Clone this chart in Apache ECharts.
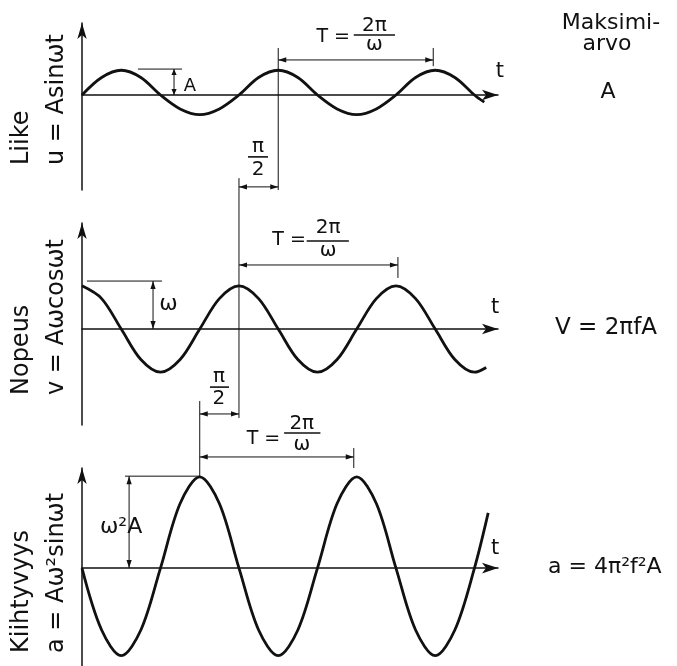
<!DOCTYPE html>
<html>
<head>
<meta charset="utf-8">
<script src="https://cdn.jsdelivr.net/npm/echarts@6/dist/echarts.min.js"></script>
<style>
html,body{margin:0;padding:0;background:#fff;}
#main{width:677px;height:666px;}
</style>
</head>
<body>
<div id="main"></div>
<script>
// aika kahdeksasosajaksoina (jakso T = 8), arvot A:n yksikoissa
var liikeT = [0,1,2,3,4,5,6,7,8,9,10,11,12,13,14,15,16,17,18,19,20,20.5];
var liikeU = [0,0.73,1.03,0.73,0,-0.58,-0.82,-0.58,0,0.73,1.03,0.73,0,-0.58,-0.82,-0.58,0,0.73,1.03,0.73,0,-0.3];

var nopeusT = [0,1,2,3,4,5,6,7,8,9,10,11,12,13,14,15,16,17,18,19,20,20.6];
var nopeusV = [1.8,1.27,0,-1.27,-1.8,-1.27,0,1.27,1.8,1.27,0,-1.27,-1.8,-1.27,0,1.27,1.8,1.27,0,-1.27,-1.8,-1.6];

var kiihtT = [0,1,2,3,4,5,6,7,8,9,10,11,12,13,14,15,16,17,18,19,20,20.7];
var kiihtA = [0,-2.58,-3.65,-2.58,0,2.69,3.8,2.69,0,-2.58,-3.65,-2.58,0,2.69,3.8,2.69,0,-2.58,-3.65,-2.58,0,2.3];

var otsikot = ['Liike', 'Nopeus', 'Kiihtyvyys'];
var kaavat = ['u = Asinωt', 'v = Aωcosωt', 'a = Aω²sinωt'];
var maksimit = ['A', 'V = 2πfA', 'a = 4π²f²A'];

var VARI = '#111';
var FONTTI = '"DejaVu Sans", sans-serif';

function pari(xs, ys) {
    var out = [];
    for (var i = 0; i < xs.length; i++) out.push([xs[i], ys[i]]);
    return out;
}

function akseliX(i) {
    return {
        type: 'value', gridIndex: i, min: 0, max: 21.2,
        axisLine: {show: true, onZero: true, symbol: ['none', 'arrow'], symbolSize: [8, 16],
            lineStyle: {color: VARI, width: 1.5}},
        axisTick: {show: false}, axisLabel: {show: false}, splitLine: {show: false}
    };
}
function akseliY(i, min, max) {
    return {
        type: 'value', gridIndex: i, min: min, max: max,
        axisLine: {show: true, onZero: false, symbol: ['none', 'arrow'], symbolSize: [7, 16],
            lineStyle: {color: VARI, width: 1.5}},
        axisTick: {show: false}, axisLabel: {show: false}, splitLine: {show: false}
    };
}
function kayra(i, data) {
    return {
        type: 'line', xAxisIndex: i, yAxisIndex: i, data: data,
        smooth: 0.33, showSymbol: false, silent: true,
        lineStyle: {color: VARI, width: 2.8}
    };
}

var myChart = echarts.init(document.getElementById('main'));
option = {
    animation: false,
    backgroundColor: '#fff',
    grid: [
        {left: 82, top: 23, width: 416, height: 167},
        {left: 82, top: 223, width: 416, height: 202},
        {left: 82, top: 468, width: 416, height: 198}
    ],
    xAxis: [akseliX(0), akseliX(1), akseliX(2)],
    yAxis: [akseliY(0, -3.96, 3.0), akseliY(1, -4.0, 4.42), akseliY(2, -4.08, 4.17)],
    series: [
        kayra(0, pari(liikeT, liikeU)),
        kayra(1, pari(nopeusT, nopeusV)),
        kayra(2, pari(kiihtT, kiihtA))
    ]
};
myChart.setOption(option);

// mittaviivat ja merkinnat, sijainnit akselien yksikoissa
var kuvio = [];
function px(g, x, y) {
    return myChart.convertToPixel({gridIndex: g}, [x, y]);
}
function karki(tip, from, L, W) {
    var dx = tip[0] - from[0], dy = tip[1] - from[1];
    var len = Math.sqrt(dx * dx + dy * dy);
    dx /= len; dy /= len;
    var bx = tip[0] - dx * L, by = tip[1] - dy * L;
    return {type: 'polygon', silent: true,
        shape: {points: [[tip[0], tip[1]], [bx - dy * W, by + dx * W], [bx + dy * W, by - dx * W]]},
        style: {fill: VARI}};
}
function viiva(g, x1, y1, x2, y2, nuolet, L) {
    var a = px(g, x1, y1), b = px(g, x2, y2);
    kuvio.push({type: 'line', silent: true,
        shape: {x1: a[0], y1: a[1], x2: b[0], y2: b[1]},
        style: {stroke: VARI, lineWidth: 1}});
    if (nuolet) {
        kuvio.push(karki(a, b, L || 8, 2.6));
        kuvio.push(karki(b, a, L || 8, 2.6));
    }
}
function teksti(g, x, y, s, koko) {
    var p = px(g, x, y);
    kuvio.push({type: 'text', x: p[0], y: p[1], silent: true,
        style: {text: s, font: koko + 'px ' + FONTTI, fill: VARI, align: 'center', verticalAlign: 'middle'}});
}
function murtoluku(g, x, y, x1, x2, yla, ala, koko, dyY, dyA) {
    var a = px(g, x1, y), b = px(g, x2, y);
    kuvio.push({type: 'line', silent: true,
        shape: {x1: a[0], y1: a[1], x2: b[0], y2: b[1]},
        style: {stroke: VARI, lineWidth: 1.6}});
    teksti(g, x, y + dyY, yla, koko);
    teksti(g, x, y - dyA, ala, koko);
}

// Liike
viiva(0, 10, 1.96, 10, -3.96, false);
viiva(0, 10, 1.46, 17.9, 1.46, true);
viiva(0, 17.9, 1.96, 17.9, 1.2, false);
viiva(0, 8, -3.83, 10, -3.83, true);
viiva(0, 2.85, 1.08, 5.1, 1.08, false);
viiva(0, 4.69, 1.08, 4.69, 0, true, 6);
teksti(0, 5.5, 0.38, 'A', 18);
teksti(0, 21.3, 0.96, 't', 21);
teksti(0, 12.8, 2.42, 'T =', 19);
murtoluku(0, 14.9, 2.5, 13.85, 15.95, '2π', 'ω', 20, 0.37, 0.42);
murtoluku(0, 8.97, -2.58, 8.46, 9.48, 'π', '2', 20, 0.4, 0.52);

// Nopeus
viiva(1, 8, 6.29, 8, -3.71, false);
viiva(1, 0.25, 2.0, 4.08, 2.0, false);
viiva(1, 3.62, 2.0, 3.62, 0, true);
viiva(1, 8, 2.67, 16.1, 2.67, true);
viiva(1, 16.1, 3.0, 16.1, 2.13, false);
viiva(1, 6, -3.54, 8, -3.54, true);
teksti(1, 4.4, 1.04, 'ω', 22);
teksti(1, 21.05, 0.88, 't', 21);
teksti(1, 10.55, 3.71, 'T =', 19);
murtoluku(1, 12.54, 3.67, 11.45, 13.6, '2π', 'ω', 20, 0.55, 0.42);
murtoluku(1, 6.98, -2.42, 6.52, 7.49, 'π', '2', 20, 0.42, 0.48);

// Kiihtyvyys
viiva(2, 6, 6.96, 6, 3.83, false);
viiva(2, 6, 4.63, 13.85, 4.63, true);
viiva(2, 13.85, 5.0, 13.85, 4.17, false);
viiva(2, 2.19, 3.83, 6, 3.83, false);
viiva(2, 2.4, 3.83, 2.4, 0, true);
teksti(2, 1.99, 1.71, 'ω²A', 22);
teksti(2, 21.05, 0.83, 't', 21);
teksti(2, 9.25, 5.38, 'T =', 19);
murtoluku(2, 11.2, 5.63, 10.3, 12.15, '2π', 'ω', 20, 0.37, 0.5);

// otsikot vasemmalla, pystyssa
var otsikkoAlku = [165, 395, 653];
for (var i = 0; i < 3; i++) {
    kuvio.push({type: 'text', x: 22, y: otsikkoAlku[i], rotation: Math.PI / 2, silent: true,
        style: {text: otsikot[i], font: '24px ' + FONTTI, fill: VARI, align: 'left', verticalAlign: 'middle'}});
    kuvio.push({type: 'text', x: 57, y: otsikkoAlku[i], rotation: Math.PI / 2, silent: true,
        style: {text: kaavat[i], font: '24px ' + FONTTI, fill: VARI, align: 'left', verticalAlign: 'middle'}});
}

// maksimiarvot oikealla
kuvio.push({type: 'text', x: 611, y: 23, silent: true,
    style: {text: 'Maksimi-', font: '22px ' + FONTTI, fill: VARI, align: 'center', verticalAlign: 'middle'}});
kuvio.push({type: 'text', x: 607, y: 44, silent: true,
    style: {text: 'arvo', font: '22px ' + FONTTI, fill: VARI, align: 'center', verticalAlign: 'middle'}});
kuvio.push({type: 'text', x: 608, y: 92, silent: true,
    style: {text: maksimit[0], font: '22px ' + FONTTI, fill: VARI, align: 'center', verticalAlign: 'middle'}});
kuvio.push({type: 'text', x: 606, y: 328, silent: true,
    style: {text: maksimit[1], font: '23px ' + FONTTI, fill: VARI, align: 'center', verticalAlign: 'middle'}});
kuvio.push({type: 'text', x: 548, y: 567, silent: true,
    style: {text: maksimit[2], font: '22px ' + FONTTI, fill: VARI, align: 'left', verticalAlign: 'middle'}});

myChart.setOption({graphic: kuvio});
window.addEventListener("resize", function () {
    myChart.resize();
});
</script>
</body>
</html>
